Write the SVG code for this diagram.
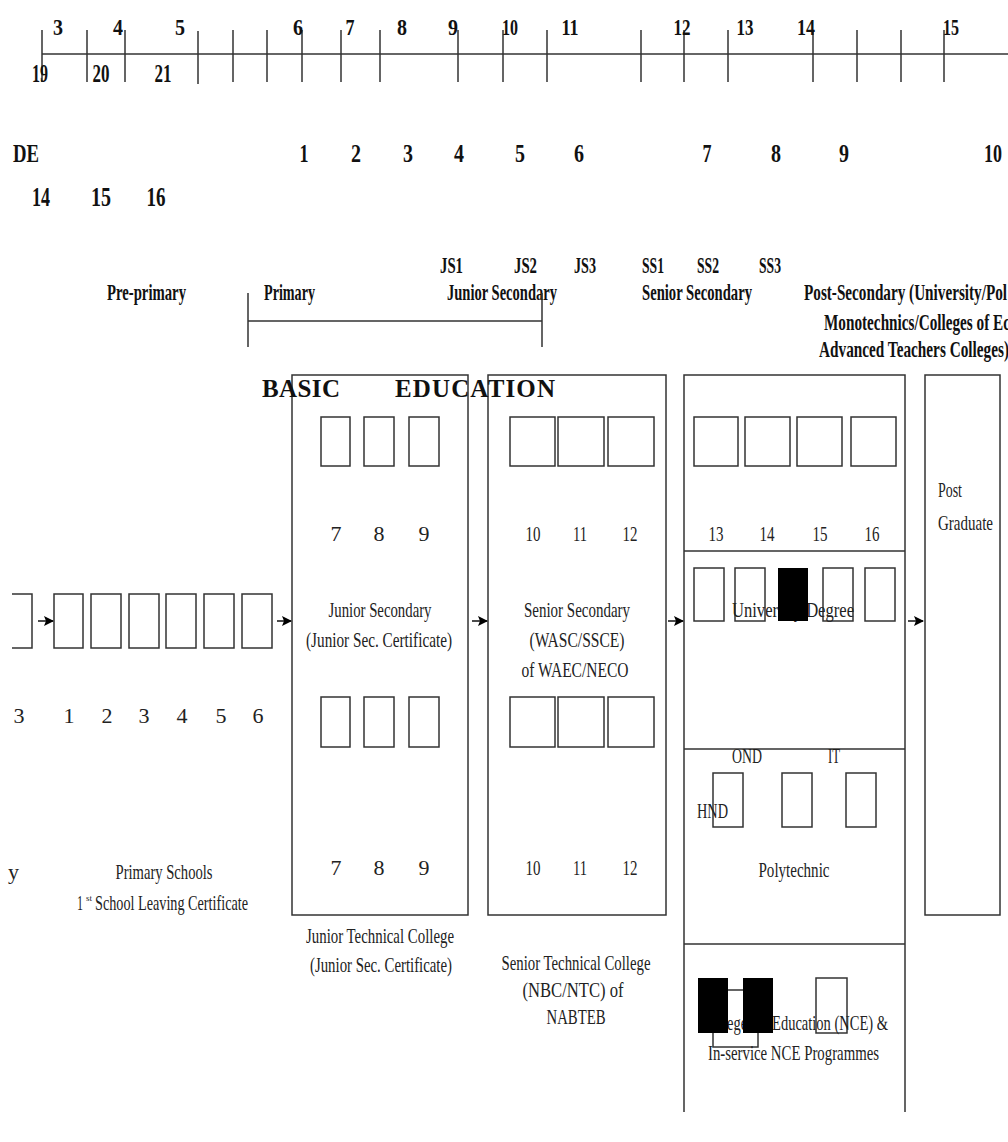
<svg xmlns="http://www.w3.org/2000/svg" width="1008" height="1142" viewBox="0 0 1008 1142">
<style>
.b{font-family:"Liberation Serif","Times New Roman",serif;font-weight:bold;font-size:23px;fill:#111}
.n{font-family:"Liberation Serif","Times New Roman",serif;font-size:22px;fill:#222}
.m{text-anchor:middle}
.ln{stroke:#333;stroke-width:1.5;fill:none}
.bx{stroke:#333;stroke-width:1.5;fill:#fff}
.blk{fill:#000}
.ar{stroke:#111;stroke-width:1.5;fill:none}
</style>
<defs>
<marker id="ah" markerWidth="10" markerHeight="10" refX="9" refY="5" orient="auto" markerUnits="userSpaceOnUse">
<path d="M0,0 L10,5 L0,10 L2,5 Z" fill="#000"/>
</marker>
</defs>
<rect width="1008" height="1142" fill="#fff"/>

<g id="ruler">
<line class="ln" x1="42" y1="54" x2="1008" y2="54" stroke-width="2"/>
<path class="ln" d="M42,30V82 M87,30V82 M125,30V82 M198,31V84 M233,30V82 M267,30V82 M302,30V82 M341,30V82 M380,30V82 M458,30V82 M503,30V82 M547,30V82 M641,30V82 M684,30V82 M728,30V82 M813,30V82 M857,30V82 M901,30V82 M944,30V82"/>
<text class="b m" x="58" y="35" textLength="10" lengthAdjust="spacingAndGlyphs">3</text>
<text class="b m" x="118" y="35" textLength="10" lengthAdjust="spacingAndGlyphs">4</text>
<text class="b m" x="180" y="35" textLength="10" lengthAdjust="spacingAndGlyphs">5</text>
<text class="b m" x="298" y="35" textLength="10" lengthAdjust="spacingAndGlyphs">6</text>
<text class="b m" x="350" y="35" textLength="9" lengthAdjust="spacingAndGlyphs">7</text>
<text class="b m" x="402" y="35" textLength="10" lengthAdjust="spacingAndGlyphs">8</text>
<text class="b m" x="453" y="35" textLength="10" lengthAdjust="spacingAndGlyphs">9</text>
<text class="b m" x="510" y="35" textLength="16" lengthAdjust="spacingAndGlyphs">10</text>
<text class="b m" x="570" y="35" textLength="17" lengthAdjust="spacingAndGlyphs">11</text>
<text class="b m" x="682" y="35" textLength="17" lengthAdjust="spacingAndGlyphs">12</text>
<text class="b m" x="745" y="35" textLength="17" lengthAdjust="spacingAndGlyphs">13</text>
<text class="b m" x="806" y="35" textLength="18" lengthAdjust="spacingAndGlyphs">14</text>
<text class="b m" x="951" y="35" textLength="16" lengthAdjust="spacingAndGlyphs">15</text>
<text class="b m" x="40" y="82" style="font-size:25px" textLength="16" lengthAdjust="spacingAndGlyphs">19</text>
<text class="b m" x="101" y="82" style="font-size:25px" textLength="17" lengthAdjust="spacingAndGlyphs">20</text>
<text class="b m" x="163" y="82" style="font-size:25px" textLength="17" lengthAdjust="spacingAndGlyphs">21</text>
</g>

<g id="age-row">
<text class="b" x="13" y="162" style="font-size:25px" textLength="26" lengthAdjust="spacingAndGlyphs">DE</text>
<text class="b m" x="304" y="162" style="font-size:25px" textLength="9" lengthAdjust="spacingAndGlyphs">1</text>
<text class="b m" x="356" y="162" style="font-size:25px" textLength="10" lengthAdjust="spacingAndGlyphs">2</text>
<text class="b m" x="408" y="162" style="font-size:25px" textLength="10" lengthAdjust="spacingAndGlyphs">3</text>
<text class="b m" x="459" y="162" style="font-size:25px" textLength="10" lengthAdjust="spacingAndGlyphs">4</text>
<text class="b m" x="520" y="162" style="font-size:25px" textLength="10" lengthAdjust="spacingAndGlyphs">5</text>
<text class="b m" x="579" y="162" style="font-size:25px" textLength="10" lengthAdjust="spacingAndGlyphs">6</text>
<text class="b m" x="707" y="162" style="font-size:25px" textLength="9" lengthAdjust="spacingAndGlyphs">7</text>
<text class="b m" x="776" y="162" style="font-size:25px" textLength="10" lengthAdjust="spacingAndGlyphs">8</text>
<text class="b m" x="844" y="162" style="font-size:25px" textLength="10" lengthAdjust="spacingAndGlyphs">9</text>
<text class="b" x="984" y="162" style="font-size:25px" textLength="18" lengthAdjust="spacingAndGlyphs">10</text>
<text class="b m" x="41" y="206" style="font-size:27px" textLength="18" lengthAdjust="spacingAndGlyphs">14</text>
<text class="b m" x="101" y="206" style="font-size:27px" textLength="20" lengthAdjust="spacingAndGlyphs">15</text>
<text class="b m" x="156" y="206" style="font-size:27px" textLength="19" lengthAdjust="spacingAndGlyphs">16</text>
</g>

<g id="level-labels">
<text class="b" x="440" y="273" textLength="23" lengthAdjust="spacingAndGlyphs">JS1</text>
<text class="b" x="514" y="273" textLength="23" lengthAdjust="spacingAndGlyphs">JS2</text>
<text class="b" x="574" y="273" textLength="22" lengthAdjust="spacingAndGlyphs">JS3</text>
<text class="b" x="642" y="273" textLength="22" lengthAdjust="spacingAndGlyphs">SS1</text>
<text class="b" x="697" y="273" textLength="22" lengthAdjust="spacingAndGlyphs">SS2</text>
<text class="b" x="759" y="273" textLength="22" lengthAdjust="spacingAndGlyphs">SS3</text>
<text class="b" x="107" y="300" textLength="79" lengthAdjust="spacingAndGlyphs">Pre-primary</text>
<text class="b" x="264" y="300" textLength="51" lengthAdjust="spacingAndGlyphs">Primary</text>
<text class="b" x="447" y="300" textLength="110" lengthAdjust="spacingAndGlyphs">Junior Secondary</text>
<text class="b" x="642" y="300" textLength="110" lengthAdjust="spacingAndGlyphs">Senior Secondary</text>
<text class="b" x="804" y="300" textLength="203" lengthAdjust="spacingAndGlyphs">Post-Secondary (University/Pol</text>
<text class="b" x="824" y="330" textLength="186" lengthAdjust="spacingAndGlyphs">Monotechnics/Colleges of Ec</text>
<text class="b" x="819" y="357" textLength="190" lengthAdjust="spacingAndGlyphs">Advanced Teachers Colleges)</text>
</g>

<g id="basic-bracket">
<path class="ln" d="M248,293V347 M248,321H542 M542,293V347" stroke-width="2"/>
</g>

<g id="junior-secondary">
<rect class="bx" x="292" y="375" width="176" height="540"/>
<rect class="bx" x="321" y="417" width="29" height="49"/>
<rect class="bx" x="364" y="417" width="30" height="49"/>
<rect class="bx" x="409" y="417" width="30" height="49"/>
<text class="n m" x="336" y="541">7</text>
<text class="n m" x="379" y="541">8</text>
<text class="n m" x="424" y="541">9</text>
<text class="n m" x="380" y="617" textLength="103" lengthAdjust="spacingAndGlyphs">Junior Secondary</text>
<text class="n m" x="379" y="647" textLength="146" lengthAdjust="spacingAndGlyphs">(Junior Sec. Certificate)</text>
<rect class="bx" x="321" y="697" width="29" height="50"/>
<rect class="bx" x="364" y="697" width="30" height="50"/>
<rect class="bx" x="409" y="697" width="30" height="50"/>
<text class="n m" x="336" y="875">7</text>
<text class="n m" x="379" y="875">8</text>
<text class="n m" x="424" y="875">9</text>
<text class="n m" x="380" y="943" textLength="148" lengthAdjust="spacingAndGlyphs">Junior Technical College</text>
<text class="n m" x="381" y="972" textLength="142" lengthAdjust="spacingAndGlyphs">(Junior Sec. Certificate)</text>
</g>

<g id="senior-secondary">
<rect class="bx" x="488" y="375" width="178" height="540"/>
<rect class="bx" x="510" y="417" width="45" height="49"/>
<rect class="bx" x="558" y="417" width="46" height="49"/>
<rect class="bx" x="608" y="417" width="46" height="49"/>
<text class="n m" x="533" y="541" textLength="15" lengthAdjust="spacingAndGlyphs">10</text>
<text class="n m" x="580" y="541" textLength="14" lengthAdjust="spacingAndGlyphs">11</text>
<text class="n m" x="630" y="541" textLength="15" lengthAdjust="spacingAndGlyphs">12</text>
<text class="n m" x="577" y="617" textLength="106" lengthAdjust="spacingAndGlyphs">Senior Secondary</text>
<text class="n m" x="577" y="647" textLength="95" lengthAdjust="spacingAndGlyphs">(WASC/SSCE)</text>
<text class="n m" x="575" y="677" textLength="107" lengthAdjust="spacingAndGlyphs">of WAEC/NECO</text>
<rect class="bx" x="510" y="697" width="45" height="50"/>
<rect class="bx" x="558" y="697" width="46" height="50"/>
<rect class="bx" x="608" y="697" width="46" height="50"/>
<text class="n m" x="533" y="875" textLength="15" lengthAdjust="spacingAndGlyphs">10</text>
<text class="n m" x="580" y="875" textLength="14" lengthAdjust="spacingAndGlyphs">11</text>
<text class="n m" x="630" y="875" textLength="15" lengthAdjust="spacingAndGlyphs">12</text>
<text class="n m" x="576" y="970" textLength="149" lengthAdjust="spacingAndGlyphs">Senior Technical College</text>
<text class="n m" x="573" y="997" textLength="101" lengthAdjust="spacingAndGlyphs">(NBC/NTC) of</text>
<text class="n m" x="576" y="1024" textLength="59" lengthAdjust="spacingAndGlyphs">NABTEB</text>
</g>

<g id="basic-education">
<text class="b" x="262" y="397" style="font-size:25px" textLength="78" lengthAdjust="spacing">BASIC</text>
<text class="b" x="395" y="397" style="font-size:25px" textLength="160" lengthAdjust="spacing">EDUCATION</text>
</g>

<g id="post-secondary">
<path class="ln" d="M684,1112V375H905V1112 M684,551H905 M684,749H905 M684,944H905"/>
<rect class="bx" x="694" y="417" width="44" height="49"/>
<rect class="bx" x="745" y="417" width="45" height="49"/>
<rect class="bx" x="797" y="417" width="45" height="49"/>
<rect class="bx" x="851" y="417" width="45" height="49"/>
<text class="n m" x="716" y="541" textLength="15" lengthAdjust="spacingAndGlyphs">13</text>
<text class="n m" x="767" y="541" textLength="15" lengthAdjust="spacingAndGlyphs">14</text>
<text class="n m" x="820" y="541" textLength="15" lengthAdjust="spacingAndGlyphs">15</text>
<text class="n m" x="872" y="541" textLength="15" lengthAdjust="spacingAndGlyphs">16</text>
</g>

<g id="university">
<rect class="bx" x="694" y="568" width="30" height="53"/>
<rect class="bx" x="735" y="568" width="30" height="53"/>
<rect class="bx" x="823" y="568" width="30" height="53"/>
<rect class="bx" x="865" y="568" width="30" height="53"/>
<text class="n" x="732" y="617" textLength="122" lengthAdjust="spacingAndGlyphs">University Degree</text>
<rect class="blk" x="778" y="568" width="30" height="53"/>
</g>

<g id="polytechnic">
<rect class="bx" x="713" y="773" width="30" height="54"/>
<rect class="bx" x="782" y="773" width="30" height="54"/>
<rect class="bx" x="846" y="773" width="30" height="54"/>
<text class="n" x="732" y="763" textLength="30" lengthAdjust="spacingAndGlyphs">OND</text>
<text class="n" x="828" y="763" textLength="12" lengthAdjust="spacingAndGlyphs">IT</text>
<text class="n" x="697" y="818" textLength="31" lengthAdjust="spacingAndGlyphs">HND</text>
<text class="n m" x="794" y="877" textLength="71" lengthAdjust="spacingAndGlyphs">Polytechnic</text>
</g>

<g id="nce">
<rect class="bx" x="713" y="990" width="45" height="57"/>
<rect class="bx" x="816" y="978" width="31" height="55"/>
<text class="n" x="702" y="1030" textLength="186" lengthAdjust="spacingAndGlyphs">Colleges of Education (NCE) &amp;</text>
<text class="n" x="708" y="1060" textLength="171" lengthAdjust="spacingAndGlyphs">In-service NCE Programmes</text>
<rect class="blk" x="698" y="978" width="30" height="55"/>
<rect class="blk" x="743" y="978" width="30" height="55"/>
</g>

<g id="post-graduate">
<rect class="bx" x="925" y="375" width="75" height="540"/>
<text class="n" x="938" y="497" textLength="24" lengthAdjust="spacingAndGlyphs">Post</text>
<text class="n" x="938" y="530" textLength="55" lengthAdjust="spacingAndGlyphs">Graduate</text>
</g>

<g id="primary">
<path class="ln" d="M12,594H32V648H12"/>
<rect class="bx" x="54" y="594" width="29" height="54"/>
<rect class="bx" x="91" y="594" width="30" height="54"/>
<rect class="bx" x="129" y="594" width="30" height="54"/>
<rect class="bx" x="166" y="594" width="30" height="54"/>
<rect class="bx" x="204" y="594" width="30" height="54"/>
<rect class="bx" x="242" y="594" width="30" height="54"/>
<text class="n m" x="19" y="723">3</text>
<text class="n m" x="69" y="723">1</text>
<text class="n m" x="107" y="723">2</text>
<text class="n m" x="144" y="723">3</text>
<text class="n m" x="182" y="723">4</text>
<text class="n m" x="221" y="723">5</text>
<text class="n m" x="258" y="723">6</text>
<text class="n" x="8" y="879">y</text>
<text class="n m" x="164" y="879" textLength="97" lengthAdjust="spacingAndGlyphs">Primary Schools</text>
<text class="n" x="77" y="910" textLength="6" lengthAdjust="spacingAndGlyphs">1</text>
<text class="n" x="86" y="901" style="font-size:8px" textLength="6" lengthAdjust="spacingAndGlyphs">st</text>
<text class="n" x="95" y="910" textLength="153" lengthAdjust="spacingAndGlyphs">School Leaving Certificate</text>
</g>

<g id="connectors">
<line class="ar" x1="38" y1="621" x2="53" y2="621" marker-end="url(#ah)"/>
<line class="ar" x1="277" y1="621" x2="291" y2="621" marker-end="url(#ah)"/>
<line class="ar" x1="472" y1="621" x2="487" y2="621" marker-end="url(#ah)"/>
<line class="ar" x1="668" y1="621" x2="683" y2="621" marker-end="url(#ah)"/>
<line class="ar" x1="908" y1="621" x2="923" y2="621" marker-end="url(#ah)"/>
</g>
</svg>
